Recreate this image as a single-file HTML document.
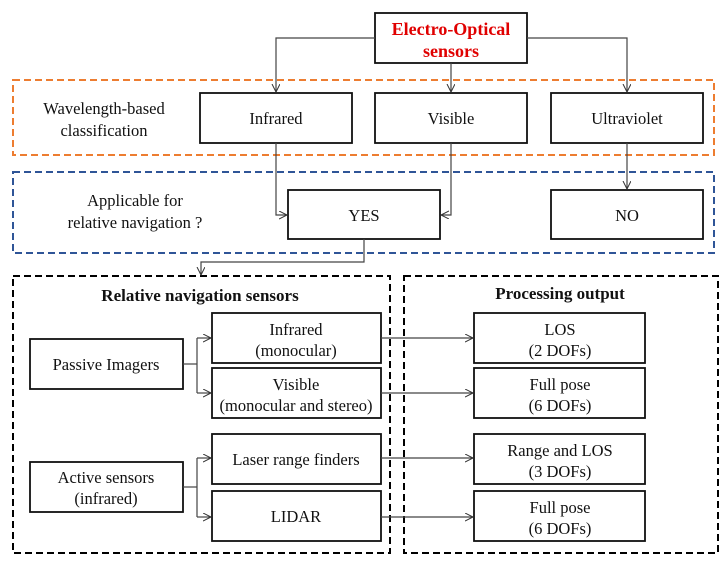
<!DOCTYPE html>
<html><head><style>body{margin:0;background:#fff}svg{display:block}text{font-family:"Liberation Serif",serif;font-size:16.5px;fill:#111;text-anchor:middle}text.t{fill:#e00000;font-weight:bold;font-size:18px}text.b{font-weight:bold;font-size:17px}</style></head><body>
<svg width="723" height="565" viewBox="0 0 723 565" xmlns="http://www.w3.org/2000/svg">
<defs><marker id="a" markerWidth="10" markerHeight="10" refX="8" refY="4" orient="auto" markerUnits="userSpaceOnUse"><path d="M0,0 L8,4 L0,8" fill="none" stroke="#333" stroke-width="1"/></marker></defs>
<g fill="none" stroke-width="2" stroke-dasharray="7,4">
<rect x="13" y="80" width="701" height="75" stroke="#ed7d31"/>
<rect x="13" y="172" width="701" height="81" stroke="#2f5597"/>
<rect x="13" y="276" width="377" height="277" stroke="#000"/>
<rect x="404" y="276" width="314" height="277" stroke="#000"/>
</g>
<g fill="#fff" stroke="#111" stroke-width="1.8">
<rect x="375" y="13" width="152" height="50"/>
<rect x="200" y="93" width="152" height="50"/>
<rect x="375" y="93" width="152" height="50"/>
<rect x="551" y="93" width="152" height="50"/>
<rect x="288" y="190" width="152" height="49"/>
<rect x="551" y="190" width="152" height="49"/>
<rect x="30" y="339" width="153" height="50"/>
<rect x="30" y="462" width="153" height="50"/>
<rect x="212" y="313" width="169" height="50"/>
<rect x="212" y="368" width="169" height="50"/>
<rect x="212" y="434" width="169" height="50"/>
<rect x="212" y="491" width="169" height="50"/>
<rect x="474" y="313" width="171" height="50"/>
<rect x="474" y="368" width="171" height="50"/>
<rect x="474" y="434" width="171" height="50"/>
<rect x="474" y="491" width="171" height="50"/>
</g>
<g fill="none" stroke="#444" stroke-width="1.2">
<path d="M375,38 H276 V92" marker-end="url(#a)"/>
<path d="M527,38 H627 V92" marker-end="url(#a)"/>
<path d="M451,63 V92" marker-end="url(#a)"/>
<path d="M276,143 V215 H287" marker-end="url(#a)"/>
<path d="M451,143 V215 H441" marker-end="url(#a)"/>
<path d="M627,143 V189" marker-end="url(#a)"/>
<path d="M364,239 V262 H201 V275" marker-end="url(#a)"/>
<path d="M183,364 H197"/><path d="M197,338 V393"/>
<path d="M197,338 H211" marker-end="url(#a)"/><path d="M197,393 H211" marker-end="url(#a)"/>
<path d="M183,487 H197"/><path d="M197,458 V517"/>
<path d="M197,458 H211" marker-end="url(#a)"/><path d="M197,517 H211" marker-end="url(#a)"/>
<path d="M381,338 H473" marker-end="url(#a)"/>
<path d="M381,393 H473" marker-end="url(#a)"/>
<path d="M381,458 H473" marker-end="url(#a)"/>
<path d="M381,517 H473" marker-end="url(#a)"/>
</g>
<text class="t" x="451" y="35">Electro-Optical</text><text class="t" x="451" y="57">sensors</text>
<text x="104" y="114">Wavelength-based</text><text x="104" y="136">classification</text>
<text x="276" y="124">Infrared</text><text x="451" y="124">Visible</text><text x="627" y="124">Ultraviolet</text>
<text x="135" y="206">Applicable for</text><text x="135" y="228">relative navigation ?</text>
<text x="364" y="221">YES</text><text x="627" y="221">NO</text>
<text class="b" x="200" y="301">Relative navigation sensors</text><text class="b" x="560" y="299">Processing output</text>
<text x="106" y="370">Passive Imagers</text>
<text x="106" y="483">Active sensors</text><text x="106" y="504">(infrared)</text>
<text x="296" y="335">Infrared</text><text x="296" y="356">(monocular)</text>
<text x="296" y="390">Visible</text><text x="296" y="411">(monocular and stereo)</text>
<text x="296" y="465">Laser range finders</text>
<text x="296" y="522">LIDAR</text>
<text x="560" y="335">LOS</text><text x="560" y="356">(2 DOFs)</text>
<text x="560" y="390">Full pose</text><text x="560" y="411">(6 DOFs)</text>
<text x="560" y="456">Range and LOS</text><text x="560" y="477">(3 DOFs)</text>
<text x="560" y="513">Full pose</text><text x="560" y="534">(6 DOFs)</text>
</svg>
</body></html>
